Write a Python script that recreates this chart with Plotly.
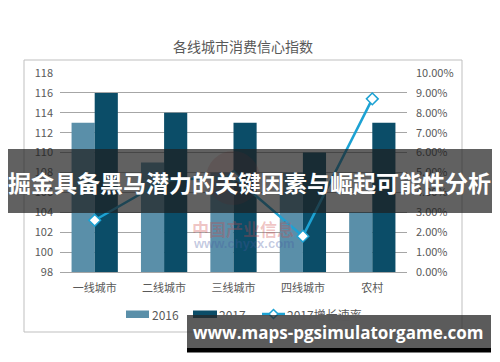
import plotly.graph_objects as go

# ---- data ----
categories = ["一线城市", "二线城市", "三线城市", "四线城市", "农村"]
index_2016 = [113, 109, 108, 108, 104]
index_2017 = [116, 114, 113, 110, 113]
growth_2017 = [0.026, 0.046, 0.048, 0.018, 0.087]

series_names = ["2016", "2017", "2017增长速率"]
title_text = "各线城市消费信心指数"
banner_text = "掘金具备黑马潜力的关键因素与崛起可能性分析"
url_text = "www.maps-pgsimulatorgame.com"

W, H = 500, 362
ML, MR, MT, MB = 60, 93, 73, 90
PW = W - ML - MR
PH = H - MT - MB

def X(px):
    return (px - ML) / PW

def Y(py):
    return (H - MB - py) / PH

FONT = "Noto Sans CJK SC, Microsoft YaHei, sans-serif"
GREY = "#595959"
C2016 = "#5A8FA9"
C2017 = "#0B4D68"
CLINE = "#1DA2D3"

fig = go.Figure()
fig.add_trace(go.Bar(x=categories, y=index_2016, name=series_names[0],
                     marker=dict(color=C2016, line=dict(width=0))))
fig.add_trace(go.Bar(x=categories, y=index_2017, name=series_names[1],
                     marker=dict(color=C2017, line=dict(width=0))))
fig.add_trace(go.Scatter(x=categories, y=growth_2017, name=series_names[2],
                         yaxis="y2", mode="lines+markers",
                         line=dict(color=CLINE, width=2.5),
                         marker=dict(symbol="diamond", size=9, color="white",
                                     line=dict(color=CLINE, width=1.5))))

def rect(x0, x1, y0, y1, fill, layer="above", line=None):
    return dict(type="rect", xref="paper", yref="paper", x0=X(x0), x1=X(x1), y0=Y(y1), y1=Y(y0),
                line=line or dict(width=0), fillcolor=fill, layer=layer)

# legend geometry (page pixels)
LEG_Y = 314
diamond = "M {} {} L {} {} L {} {} L {} {} Z".format(
    X(273.5), Y(LEG_Y - 4.5), X(278), Y(LEG_Y), X(273.5), Y(LEG_Y + 4.5), X(269), Y(LEG_Y))

shapes = [
    # outer chart border
    rect(24, 462, 60, 332, "rgba(0,0,0,0)", layer="below", line=dict(color="#BFBFBF", width=1)),
    # legend swatches
    rect(126, 149, 310.5, 318, C2016, layer="below"),
    rect(193, 217, 310.5, 318, C2017, layer="below"),
    dict(type="line", xref="paper", yref="paper", x0=X(262), x1=X(285), y0=Y(LEG_Y), y1=Y(LEG_Y),
         line=dict(color=CLINE, width=2.5), layer="below"),
    dict(type="path", xref="paper", yref="paper", path=diamond, fillcolor="white",
         line=dict(color=CLINE, width=1.5), layer="below"),
    # watermark circle
    dict(type="circle", xref="paper", yref="paper", x0=X(206), x1=X(260), y0=Y(205), y1=Y(151),
         line=dict(width=0), fillcolor="rgba(200,70,70,0.2)", layer="above"),
    # overlay banner
    rect(8, 492, 149, 213, "rgba(30,30,30,0.70)"),
    # bottom url banner
    rect(187, 491, 315, 348, "rgba(40,40,40,0.76)"),
    rect(187, 491, 348, 352.5, "#000000"),
]

annotations = [
    dict(text=title_text, xref="paper", yref="paper", x=X(243), y=Y(46),
         showarrow=False, font=dict(family=FONT, size=14, color=GREY),
         xanchor="center", yanchor="middle"),
    dict(text=series_names[0], xref="paper", yref="paper", x=X(150), y=Y(LEG_Y),
         showarrow=False, font=dict(family=FONT, size=12, color=GREY),
         xanchor="left", yanchor="middle"),
    dict(text=series_names[1], xref="paper", yref="paper", x=X(217), y=Y(LEG_Y),
         showarrow=False, font=dict(family=FONT, size=12, color=GREY),
         xanchor="left", yanchor="middle"),
    dict(text=series_names[2], xref="paper", yref="paper", x=X(285), y=Y(LEG_Y),
         showarrow=False, font=dict(family=FONT, size=12, color=GREY),
         xanchor="left", yanchor="middle"),
    dict(text="中国产业信息", xref="paper", yref="paper", x=X(243), y=Y(228),
         showarrow=False, font=dict(family=FONT, size=17, color="rgba(205,70,70,0.33)", weight="bold"),
         xanchor="center", yanchor="middle"),
    dict(text="www.chyxx.com", xref="paper", yref="paper", x=X(244), y=Y(243),
         showarrow=False, font=dict(family="Liberation Sans, Arial, sans-serif", size=13,
                                    color="rgba(70,90,160,0.33)", weight="bold"),
         xanchor="center", yanchor="middle"),
    dict(text=banner_text, xref="paper", yref="paper", x=X(250), y=Y(182),
         showarrow=False, font=dict(family=FONT, size=23, color="white", weight="bold"),
         xanchor="center", yanchor="middle"),
    dict(text=url_text, xref="paper", yref="paper", x=X(338), y=Y(332),
         showarrow=False, font=dict(family="Open Sans, Noto Sans, sans-serif", size=17,
                                    color="white", weight="bold"),
         xanchor="center", yanchor="middle"),
]

fig.update_layout(
    width=W, height=H,
    margin=dict(l=ML, r=MR, t=MT, b=MB),
    paper_bgcolor="white", plot_bgcolor="white",
    barmode="group", bargap=0.333, bargroupgap=0,
    font=dict(family=FONT, color=GREY, size=11),
    showlegend=False,
    xaxis=dict(type="category", showgrid=False, showline=True, linecolor="#A6A6A6",
               ticks="", tickfont=dict(size=11, color=GREY), zeroline=False,
               ticklabelstandoff=6),
    yaxis=dict(range=[98, 118], dtick=2, showgrid=True, gridcolor="#A6A6A6", gridwidth=1,
               zeroline=False, showline=False, ticks="", tickfont=dict(size=11, color=GREY),
               ticklabelstandoff=6),
    yaxis2=dict(range=[0, 0.10], dtick=0.01, tickformat=".2%", overlaying="y", side="right",
                showgrid=False, zeroline=False, showline=False, ticks="",
                tickfont=dict(size=11, color=GREY), ticklabelstandoff=8),
    shapes=shapes,
    annotations=annotations,
)

fig.write_html("out.html", config={"displayModeBar": False},
               post_script="document.body.style.margin='0';document.body.style.padding='0';")
